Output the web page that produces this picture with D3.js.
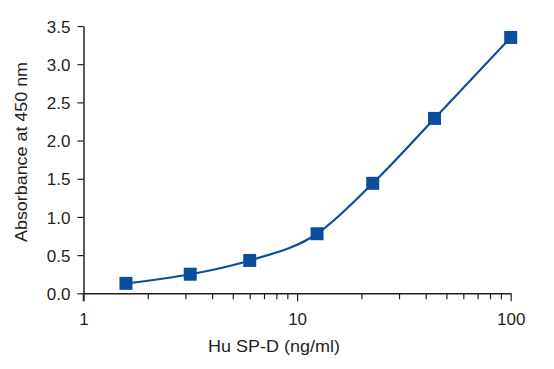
<!DOCTYPE html>
<html><head><meta charset="utf-8">
<script src="https://cdn.jsdelivr.net/npm/d3@7"></script>
<style>body{margin:0;background:#fff}svg{display:block}text{font-family:"Liberation Sans",Arial,sans-serif;fill:#231f20}</style>
</head><body><svg id="c" width="554" height="369"></svg>
<script>
const concentration = [1.58, 3.16, 6.0, 12.4, 22.6, 44, 100];
const absorbance = [0.13, 0.25, 0.43, 0.78, 1.44, 2.29, 3.35];
const yTicks = [0, 0.5, 1.0, 1.5, 2.0, 2.5, 3.0, 3.5];
const xMajorTicks = [1, 10, 100];
const xTitle = "Hu SP-D (ng/ml)";
const yTitle = "Absorbance at 450 nm";

const svg = d3.select("#c");
const x = d3.scaleLog().domain([1, 100]).range([83.5, 510.7]);
const y = d3.scaleLinear().domain([0, 3.5]).range([293.3, 26]);
const axisColor = "#231f20";
const blue = "#0b4f9c";

// minor ticks
const minor = [];
for (let d = 1; d < 100; d *= 10) for (let k = 2; k <= 9; k++) minor.push(d * k);

const gx = svg.append("g").attr("transform", `translate(0,${y(0)})`)
  .call(d3.axisBottom(x).tickValues(minor).tickSize(6).tickSizeOuter(0).tickFormat(""));
const gx2 = svg.append("g").attr("transform", `translate(0,${y(0)})`)
  .call(d3.axisBottom(x).tickValues(xMajorTicks).tickSize(8).tickSizeOuter(0).tickPadding(12).tickFormat(d3.format("d")));
gx2.select(".domain").remove();
const gy = svg.append("g").attr("transform", `translate(${x(1)},0)`)
  .call(d3.axisLeft(y).tickValues(yTicks).tickSize(6).tickSizeOuter(0).tickPadding(7).tickFormat(d3.format(".1f")));

[gx, gx2, gy].forEach(g => {
  g.selectAll(".domain").attr("stroke", axisColor).attr("stroke-width", 1.5);
  g.selectAll(".tick line").attr("stroke", axisColor).attr("stroke-width", 1.2);
  g.selectAll(".tick text").attr("font-size", 17).attr("fill", axisColor)
    .style("font-family", '"Liberation Sans",Arial,sans-serif');
});
gy.selectAll(".tick text").attr("dy", "0.36em");

// y axis extension below x axis
svg.append("line").attr("x1", x(1)).attr("x2", x(1)).attr("y1", y(0)).attr("y2", y(0) + 8)
  .attr("stroke", axisColor).attr("stroke-width", 1.5);

const pts = concentration.map((c, i) => [x(c), y(absorbance[i])]);
svg.append("path").attr("d", d3.line().curve(d3.curveMonotoneX)(pts))
  .attr("fill", "none").attr("stroke", blue).attr("stroke-width", 2.2);

const s = 13;
svg.selectAll("rect.m").data(pts).join("rect").attr("class", "m")
  .attr("x", d => d[0] - s / 2).attr("y", d => d[1] - s / 2)
  .attr("width", s).attr("height", s).attr("fill", blue);

svg.append("text").attr("x", 274).attr("y", 352).attr("text-anchor", "middle")
  .attr("font-size", 17).attr("textLength", 132).attr("lengthAdjust", "spacingAndGlyphs").text(xTitle);
svg.append("text").attr("transform", "translate(27,152) rotate(-90)").attr("text-anchor", "middle")
  .attr("font-size", 17).attr("textLength", 180).attr("lengthAdjust", "spacingAndGlyphs").text(yTitle);
</script></body></html>
